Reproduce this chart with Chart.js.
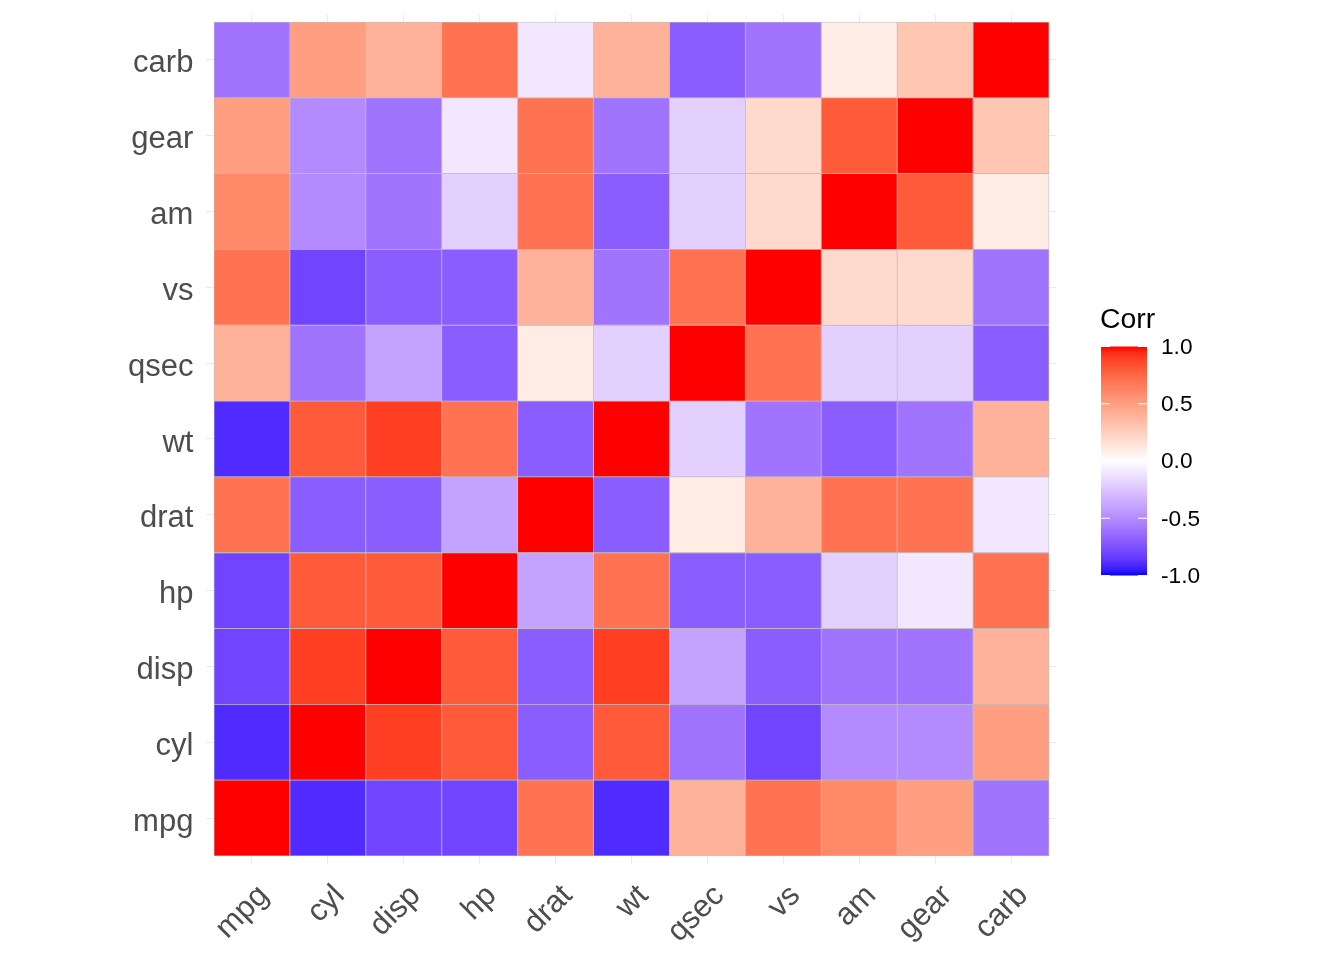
<!DOCTYPE html>
<html>
<head>
<meta charset="utf-8">
<script src="https://cdn.jsdelivr.net/npm/chart.js@4.4.1/dist/chart.umd.min.js"></script>
<style>
  html, body { margin: 0; padding: 0; background: #fff; }
  #wrap { width: 1344px; height: 960px; }
</style>
</head>
<body>
<div id="wrap"><canvas id="chart" width="1344" height="960"></canvas></div>
<script>
// variable names, bottom-to-top on y and left-to-right on x
const vars = ["mpg", "cyl", "disp", "hp", "drat", "wt", "qsec", "vs", "am", "gear", "carb"];

// correlation matrix, rounded to 1 decimal (row order = vars)
const corr = [
  [ 1.0, -0.9, -0.8, -0.8,  0.7, -0.9,  0.4,  0.7,  0.6,  0.5, -0.6], // mpg
  [-0.9,  1.0,  0.9,  0.8, -0.7,  0.8, -0.6, -0.8, -0.5, -0.5,  0.5], // cyl
  [-0.8,  0.9,  1.0,  0.8, -0.7,  0.9, -0.4, -0.7, -0.6, -0.6,  0.4], // disp
  [-0.8,  0.8,  0.8,  1.0, -0.4,  0.7, -0.7, -0.7, -0.2, -0.1,  0.7], // hp
  [ 0.7, -0.7, -0.7, -0.4,  1.0, -0.7,  0.1,  0.4,  0.7,  0.7, -0.1], // drat
  [-0.9,  0.8,  0.9,  0.7, -0.7,  1.0, -0.2, -0.6, -0.7, -0.6,  0.4], // wt
  [ 0.4, -0.6, -0.4, -0.7,  0.1, -0.2,  1.0,  0.7, -0.2, -0.2, -0.7], // qsec
  [ 0.7, -0.8, -0.7, -0.7,  0.4, -0.6,  0.7,  1.0,  0.2,  0.2, -0.6], // vs
  [ 0.6, -0.5, -0.6, -0.2,  0.7, -0.7, -0.2,  0.2,  1.0,  0.8,  0.1], // am
  [ 0.5, -0.5, -0.6, -0.1,  0.7, -0.6, -0.2,  0.2,  0.8,  1.0,  0.3], // gear
  [-0.6,  0.5,  0.4,  0.7, -0.1,  0.4, -0.7, -0.6,  0.1,  0.3,  1.0]  // carb
];

const legendTicks = [-1.0, -0.5, 0.0, 0.5, 1.0];
const legendTitle = "Corr";

// --- blue / white / red diverging scale, interpolated in CIELAB ---
function toLin(c){ c /= 255; return c <= 0.04045 ? c / 12.92 : Math.pow((c + 0.055) / 1.055, 2.4); }
function toSrgb(c){
  c = c <= 0.0031308 ? 12.92 * c : 1.055 * Math.pow(c, 1 / 2.4) - 0.055;
  return Math.round(Math.min(1, Math.max(0, c)) * 255);
}
const E = 6 / 29;
function f(t){ return t > E * E * E ? Math.cbrt(t) : t / (3 * E * E) + 4 / 29; }
function finv(t){ return t > E ? t * t * t : 3 * E * E * (t - 4 / 29); }
function rgbToLab(rgb){
  const r = toLin(rgb[0]), g = toLin(rgb[1]), b = toLin(rgb[2]);
  const X = (0.4124564*r + 0.3575761*g + 0.1804375*b) / 0.95047;
  const Y = (0.2126729*r + 0.7151522*g + 0.0721750*b);
  const Z = (0.0193339*r + 0.1191920*g + 0.9503041*b) / 1.08883;
  return [116 * f(Y) - 16, 500 * (f(X) - f(Y)), 200 * (f(Y) - f(Z))];
}
function labToRgb(lab){
  const fy = (lab[0] + 16) / 116, fx = fy + lab[1] / 500, fz = fy - lab[2] / 200;
  const X = finv(fx) * 0.95047, Y = finv(fy), Z = finv(fz) * 1.08883;
  const r =  3.2404542*X - 1.5371385*Y - 0.4985314*Z;
  const g = -0.9692660*X + 1.8760108*Y + 0.0415560*Z;
  const b =  0.0556434*X - 0.2040259*Y + 1.0572252*Z;
  return `rgb(${toSrgb(r)},${toSrgb(g)},${toSrgb(b)})`;
}
const labLow = rgbToLab([0, 0, 255]), labMid = rgbToLab([255, 255, 255]), labHigh = rgbToLab([255, 0, 0]);
function corrColor(v){
  const t = Math.min(1, Math.abs(v));
  const end = v < 0 ? labLow : labHigh;
  return labToRgb(labMid.map((m, k) => m + (end[k] - m) * t));
}

// one floating-bar dataset per row, each bar spans one cell
const datasets = vars.map((name, i) => ({
  label: name,
  data: vars.map((_, j) => ({ x: j, y: [i - 0.5, i + 0.5] })),
  backgroundColor: corr[i].map(corrColor),
  borderColor: "#bebebe",
  borderWidth: 0.75,
  borderSkipped: false,
  grouped: false,
  barPercentage: 1,
  categoryPercentage: 1
}));

const axisFont = { family: "'Liberation Sans', Arial, sans-serif", size: 31 };
const ticksAt = (axis) => { axis.ticks = vars.map((_, i) => ({ value: i })); };

const corrLegend = {
  id: "corrLegend",
  afterDraw(chart){
    const ctx = chart.ctx;
    const x0 = 1101, w = 46, top = 346.5, bottom = 575.5;
    const ypos = (v) => bottom - (v - legendTicks[0]) / (legendTicks[legendTicks.length - 1] - legendTicks[0]) * (bottom - top);
    const grad = ctx.createLinearGradient(0, top, 0, bottom);
    for (let k = 0; k <= 40; k++) grad.addColorStop(k / 40, corrColor(1 - 2 * k / 40));
    ctx.save();
    ctx.fillStyle = grad;
    ctx.fillRect(x0, top, w, bottom - top);
    ctx.strokeStyle = "#fff";
    ctx.lineWidth = 1;
    ctx.fillStyle = "#000";
    ctx.font = "22.7px 'Liberation Sans', Arial, sans-serif";
    ctx.textBaseline = "middle";
    ctx.textAlign = "left";
    legendTicks.forEach(v => {
      const y = ypos(v);
      ctx.beginPath();
      ctx.moveTo(x0, y); ctx.lineTo(x0 + 9, y);
      ctx.moveTo(x0 + w - 9, y); ctx.lineTo(x0 + w, y);
      ctx.stroke();
      ctx.fillText(v.toFixed(1), 1161, y + 1);
    });
    ctx.font = "28.4px 'Liberation Sans', Arial, sans-serif";
    ctx.textBaseline = "alphabetic";
    ctx.fillText(legendTitle, 1100, 328);
    ctx.restore();
  }
};

new Chart(document.getElementById("chart"), {
  type: "bar",
  data: { datasets: datasets },
  options: {
    responsive: false,
    animation: false,
    layout: { padding: { left: 0, top: 14.4, right: 287.4, bottom: 0 } },
    plugins: { legend: { display: false }, tooltip: { enabled: false } },
    scales: {
      x: {
        type: "linear",
        offset: false,
        min: -0.6, max: 10.6,
        afterBuildTicks: ticksAt,
        afterFit: (s) => { s.height = 96.4; s.paddingLeft = 0; s.paddingRight = 0; },
        border: { display: false },
        grid: { color: "#ebebeb", lineWidth: 1.1, drawTicks: false, offset: false },
        ticks: {
          autoSkip: false,
          minRotation: 45, maxRotation: 45,
          padding: 14,
          labelOffset: 12,
          color: "#4d4d4d",
          font: axisFont,
          callback: (v) => vars[v]
        }
      },
      y: {
        type: "linear",
        offset: false,
        min: -0.6, max: 10.6,
        afterBuildTicks: ticksAt,
        afterFit: (s) => { s.width = 206.4; s.paddingTop = 0; s.paddingBottom = 0; },
        border: { display: false },
        grid: { color: "#ebebeb", lineWidth: 1.1, drawTicks: false },
        ticks: {
          autoSkip: false,
          padding: 13,
          labelOffset: 4,
          color: "#4d4d4d",
          font: axisFont,
          callback: (v) => vars[v]
        }
      }
    }
  },
  plugins: [corrLegend]
});
</script>
</body>
</html>
